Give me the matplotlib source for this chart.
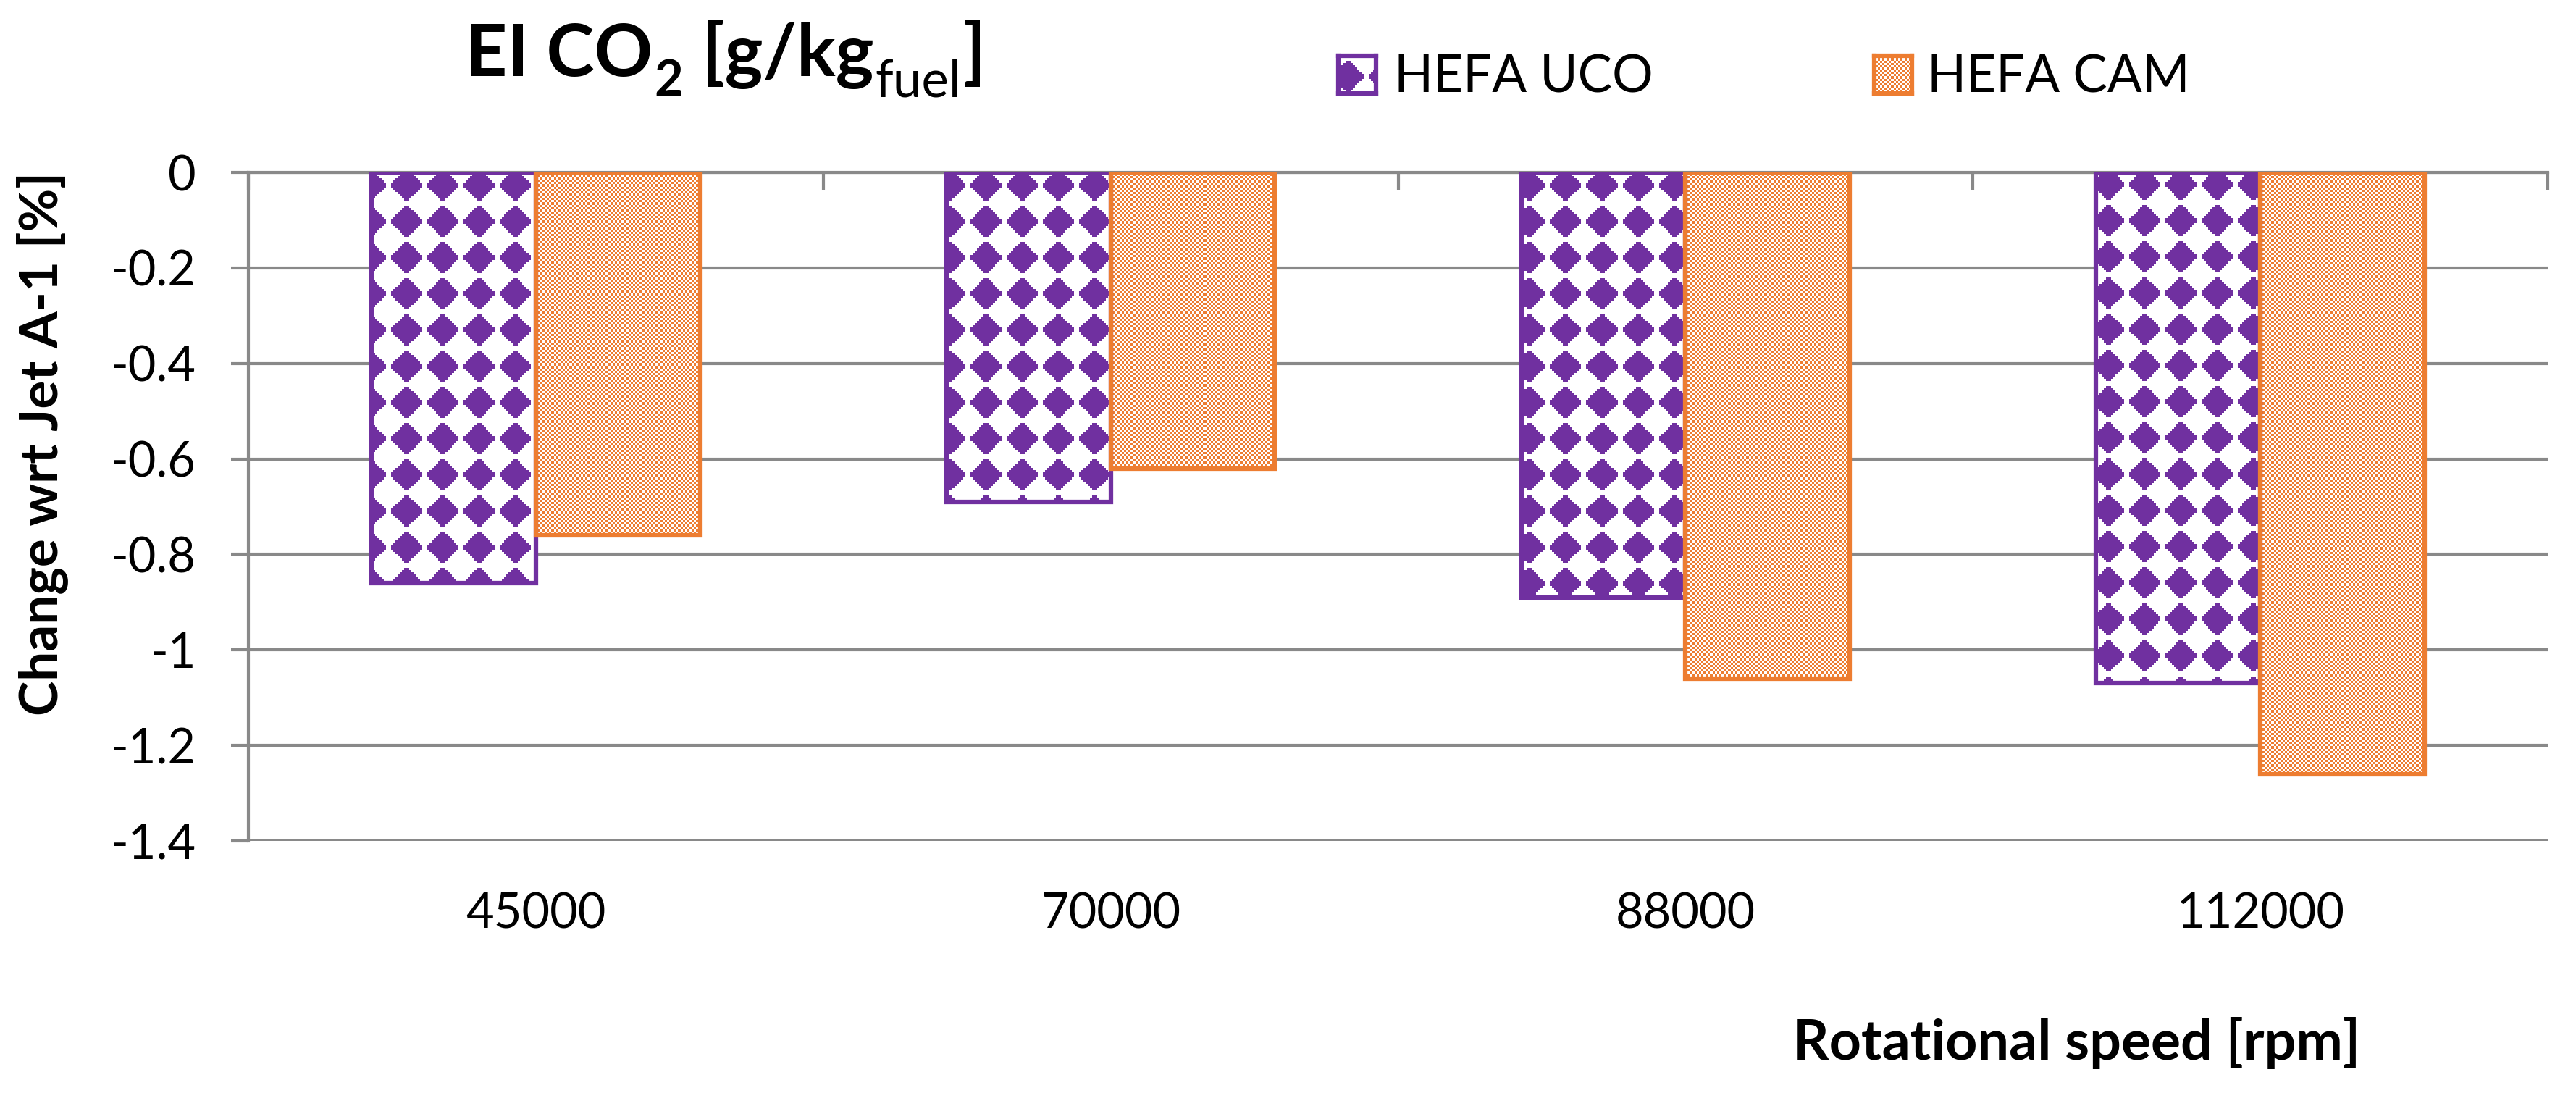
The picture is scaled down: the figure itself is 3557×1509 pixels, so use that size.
import numpy as np
import matplotlib
matplotlib.use("Agg")
import matplotlib.pyplot as plt
import matplotlib.colors as mcolors

# --- data ---
speeds = ['45000', '70000', '88000', '112000']
hefa_uco = [-0.86, -0.69, -0.89, -1.07]
hefa_cam = [-0.76, -0.62, -1.06, -1.26]
yticks = [0, -0.2, -0.4, -0.6, -0.8, -1.0, -1.2, -1.4]
ytick_labels = ['0', '-0.2', '-0.4', '-0.6', '-0.8', '-1', '-1.2', '-1.4']
series_names = ['HEFA UCO', 'HEFA CAM']

PURPLE = '#7030A0'
ORANGE = '#ED7D31'
GRID = '#898989'

W, H, DPI = 3557, 1509, 300

plt.rcParams['font.family'] = ['Lato', 'DejaVu Sans']


def texture(h, w, kind, color, x0, y0):
    # Excel-like pattern fill, built in output pixel space
    yy, xx = np.mgrid[y0:y0 + h, x0:x0 + w]
    u = np.floor((xx + 14) / 3.125)
    v = np.floor((yy + 20) / 3.125)
    if kind == 'diamond':
        du = np.abs(u % 16 - 7.5)
        dv = np.abs(v % 16 - 7.5)
        mask = (du + dv) <= 7
    else:
        mask = ((u + v) % 2) == 0
    img = np.full((h, w, 3), 255, dtype=np.uint8)
    rgb = (np.array(mcolors.to_rgb(color)) * 255).astype(np.uint8)
    img[mask] = rgb
    return img


fig = plt.figure(figsize=(W / DPI, H / DPI), dpi=DPI)

# plot area in pixels
px_l, px_r, px_t, px_b = 343, 3518, 238, 1161
ax = fig.add_axes([px_l / W, 1 - px_b / H, (px_r - px_l) / W, (px_b - px_t) / H])

x = np.arange(len(speeds))
bw = 0.2857
xlim = (-0.5, len(speeds) - 0.5)
ylim = (-1.4, 0)

ax_w, ax_h = px_r - px_l, px_b - px_t
tex = {
    'diamond': texture(ax_h, ax_w, 'diamond', PURPLE, px_l, px_t),
    'checker': texture(ax_h, ax_w, 'checker', ORANGE, px_l, px_t),
}

for vals, off, color, kind in [(hefa_uco, -bw / 2, PURPLE, 'diamond'),
                               (hefa_cam, bw / 2, ORANGE, 'checker')]:
    bars = ax.bar(x + off, vals, width=bw, facecolor='none', edgecolor=color,
                  linewidth=1.5, zorder=3)
    for b in bars:
        im = ax.imshow(tex[kind], extent=(xlim[0], xlim[1], ylim[0], ylim[1]),
                       aspect='auto', interpolation='nearest', zorder=2)
        im.set_clip_path(b)

ax.set_xlim(*xlim)
ax.set_ylim(*ylim)

# y axis
ax.set_yticks(yticks)
ax.set_yticklabels(ytick_labels, fontsize=16)
ax.yaxis.grid(True, color=GRID, linewidth=1.0, zorder=0)
ax.set_axisbelow(True)
ax.tick_params(axis='y', direction='out', length=5.8, width=1.0, color=GRID,
               pad=11.5)

# x axis: labels low, tick marks on the zero line at category boundaries
ax.set_xticks(x)
ax.set_xticklabels(speeds, fontsize=16)
ax.set_xticks(np.arange(-0.5, len(speeds), 1), minor=True)
ax.tick_params(axis='x', which='major', length=0, pad=17)
ax.tick_params(axis='x', which='minor', top=True, bottom=False, direction='in',
               length=5.8, width=1.0, color=GRID)

for s in ['right', 'bottom']:
    ax.spines[s].set_visible(False)
for s in ['left', 'top']:
    ax.spines[s].set_color(GRID)
    ax.spines[s].set_linewidth(1.0)

# axis titles
fig.text(58 / W, 1 - 612 / H, 'Change wrt Jet A-1 [%]', rotation=90,
         ha='center', va='center', fontsize=17.5, fontweight='bold')
fig.text(2868 / W, 1 - 1463 / H, 'Rotational speed [rpm]', ha='center',
         va='baseline', fontsize=18.5, fontweight='bold')

# chart title, built piece by piece for the subscripts
renderer = fig.canvas.get_renderer()
title_parts = [('EI CO', 24, 'bold', 0), ('2', 16.5, 'bold', 27),
               (' [g/kg', 24, 'bold', 0), ('fuel', 17, 'normal', 28),
               (']', 24, 'bold', 0)]
tx = 643
for txt, size, weight, drop in title_parts:
    t = fig.text(tx / W, 1 - (105 + drop) / H, txt, ha='left', va='baseline',
                 fontsize=size, fontweight=weight)
    tx += t.get_window_extent(renderer).width + 2

# legend (pattern swatches + labels)
legend_items = [(1848, 1925, 'diamond', PURPLE), (2588, 2661, 'checker', ORANGE)]
for name, (mx, lx, kind, color) in zip(series_names, legend_items):
    lax = fig.add_axes([mx / W, 1 - 129 / H, 52 / W, 52 / H])
    lax.imshow(texture(52, 52, kind, color, mx, 77), interpolation='nearest',
               aspect='auto')
    lax.set_xticks([])
    lax.set_yticks([])
    for sp in lax.spines.values():
        sp.set_color(color)
        sp.set_linewidth(1.5)
    fig.text(lx / W, 1 - 128 / H, name, ha='left', va='baseline', fontsize=17)

fig.savefig('out.png', dpi=DPI, facecolor='white')
plt.close(fig)
